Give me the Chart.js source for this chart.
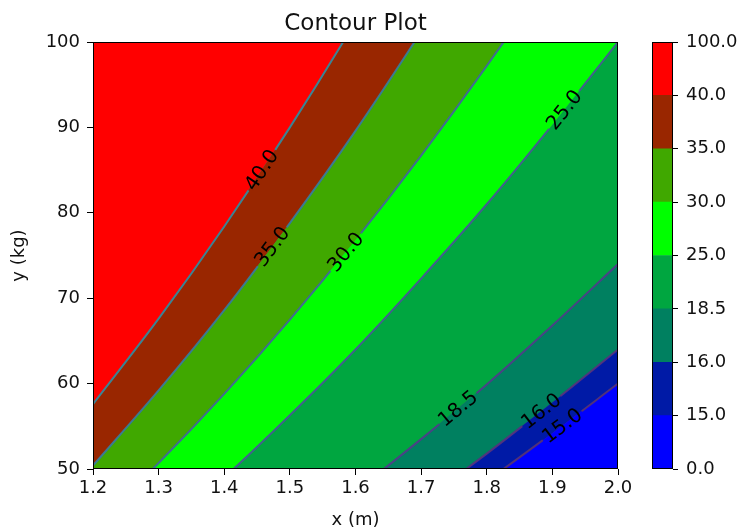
<!DOCTYPE html>
<html>
<head>
<meta charset="utf-8">
<script src="https://cdn.jsdelivr.net/npm/chart.js@4"></script>
<style>
  body { margin: 0; background: #fff; }
  #wrap { position: relative; width: 741px; height: 531px; }
  #contour { position: absolute; left: 0; top: 0; }
  #colorbar { position: absolute; left: 640px; top: 0; }
</style>
</head>
<body>
<div id="wrap">
  <canvas id="contour" width="741" height="531"></canvas>
  <canvas id="colorbar" width="101" height="531"></canvas>
</div>
<script>
// x samples (m) and the weight (kg) where each contour level crosses them
const heights = [1.2, 1.3, 1.4, 1.5, 1.6, 1.7, 1.8, 1.9, 2.0];
const curve15 = [21.6, 25.4, 29.4, 33.8, 38.4, 43.4, 48.6, 54.2, 60.0];
const curve16 = [23.0, 27.0, 31.4, 36.0, 41.0, 46.2, 51.8, 57.8, 64.0];
const curve185 = [26.6, 31.3, 36.3, 41.6, 47.4, 53.5, 59.9, 66.8, 74.0];
const curve25 = [36.0, 42.3, 49.0, 56.3, 64.0, 72.3, 81.0, 90.3, 100.0];
const curve30 = [43.2, 50.7, 58.8, 67.5, 76.8, 86.7, 97.2, 108.3, 120.0];
const curve35 = [50.4, 59.2, 68.6, 78.8, 89.6, 101.2, 113.4, 126.4, 140.0];
const curve40 = [57.6, 67.6, 78.4, 90.0, 102.4, 115.6, 129.6, 144.4, 160.0];
const curve100 = [144, 169, 196, 225, 256, 289, 324, 361, 400];

const levels = [0, 15, 16, 18.5, 25, 30, 35, 40, 100];
const bandColors = ["#0000ff", "#001aa6", "#008060", "#00a640", "#00ff00", "#40a800", "#992600", "#ff0000"];
const lineColors = ["#50307a", "#50347e", "#4a4286", "#42608e", "#3f6e90", "#3a7a92", "#3a8494", "#3a8494"];

const xTicks = [1.2, 1.3, 1.4, 1.5, 1.6, 1.7, 1.8, 1.9, 2.0];
const yTicks = [50, 60, 70, 80, 90, 100];

// inline contour labels: level and the x where it sits
const labelLevels = [40, 35, 30, 25, 18.5, 16, 15];
const labelHeights = [1.457, 1.473, 1.585, 1.918, 1.756, 1.883, 1.915];

const FONT = "DejaVu Sans";
const curves = [curve15, curve16, curve185, curve25, curve30, curve35, curve40, curve100];

const frame = {
    id: "frame",
    afterDraw(chart) {
        const a = chart.chartArea;
        const ctx = chart.ctx;
        ctx.save();
        ctx.strokeStyle = "#000";
        ctx.lineWidth = 1;
        ctx.strokeRect(Math.round(a.left) + 0.5, Math.round(a.top) + 0.5,
            Math.round(a.right - a.left) - 1, Math.round(a.bottom - a.top) - 1);
        ctx.restore();
    }
};

const contourLabels = {
    id: "contourLabels",
    afterDatasetsDraw(chart) {
        const ctx = chart.ctx;
        const xScale = chart.scales.x;
        ctx.save();
        ctx.font = `20px "${FONT}"`;
        ctx.textAlign = "center";
        ctx.textBaseline = "middle";
        labelLevels.forEach((lv, j) => {
            const k = levels.indexOf(lv);
            const pts = chart.getDatasetMeta(k - 1).data;
            const px = xScale.getPixelForValue(labelHeights[j]);
            let i = 0;
            while (i < pts.length - 2 && pts[i + 1].x < px) i++;
            const a = pts[i], b = pts[i + 1];
            const t = (px - a.x) / (b.x - a.x);
            const py = a.y + t * (b.y - a.y);
            const ang = Math.atan2(b.y - a.y, b.x - a.x);
            const text = lv.toFixed(1);
            const w = ctx.measureText(text).width + 4;
            ctx.save();
            ctx.translate(px, py);
            ctx.rotate(ang);
            ctx.fillStyle = bandColors[k];
            ctx.fillRect(-w / 2, -4, w, 4);
            ctx.fillStyle = bandColors[k - 1];
            ctx.fillRect(-w / 2, 0, w, 4);
            ctx.fillStyle = "#000";
            ctx.fillText(text, 0, 1);
            ctx.restore();
        });
        ctx.restore();
    }
};

// contour bands: each level line fills down with the band below it
const datasets = curves.map((c, i) => ({
    label: String(levels[i + 1]),
    data: heights.map((h, n) => ({ x: h, y: c[n] })),
    fill: "start",
    backgroundColor: bandColors[i],
    borderColor: lineColors[i],
    borderWidth: i === curves.length - 1 ? 0 : 2,
    pointRadius: 0,
    cubicInterpolationMode: "monotone"
}));

new Chart(document.getElementById("contour"), {
    type: "line",
    data: { datasets },
    options: {
        responsive: false,
        animation: false,
        layout: { padding: { left: 0, right: 123, top: 1, bottom: 0 } },
        plugins: {
            legend: { display: false },
            tooltip: { enabled: false },
            title: {
                display: true,
                text: "Contour Plot",
                fullSize: false,
                color: "#111",
                font: { family: FONT, size: 23, weight: "normal" },
                padding: { top: 9, bottom: 4.4 }
            }
        },
        scales: {
            x: {
                type: "linear",
                min: 1.2,
                max: 2.0,
                afterBuildTicks: s => { s.ticks = xTicks.map(v => ({ value: v })); },
                afterFit: s => { s.height = 62; },
                ticks: {
                    color: "#111",
                    padding: 3,
                    maxRotation: 0,
                    font: { family: FONT, size: 18 },
                    callback: v => v.toFixed(1)
                },
                grid: { drawOnChartArea: false, tickLength: 6, color: "#000" },
                border: { display: false },
                title: {
                    display: true,
                    text: "x (m)",
                    color: "#111",
                    font: { family: FONT, size: 18 },
                    padding: { top: 0, bottom: 0 }
                }
            },
            y: {
                type: "linear",
                min: 50,
                max: 100,
                afterBuildTicks: s => { s.ticks = yTicks.map(v => ({ value: v })); },
                afterFit: s => { s.width = 93; },
                ticks: {
                    color: "#111",
                    padding: 7,
                    font: { family: FONT, size: 18 }
                },
                grid: { drawOnChartArea: false, tickLength: 6, color: "#000" },
                border: { display: false },
                title: {
                    display: true,
                    text: "y (kg)",
                    color: "#111",
                    font: { family: FONT, size: 18 },
                    padding: { top: 9, bottom: 0 }
                }
            }
        }
    },
    plugins: [contourLabels, frame]
});

// colorbar: one stacked bar, one equal segment per band
new Chart(document.getElementById("colorbar"), {
    type: "bar",
    data: {
        labels: [""],
        datasets: bandColors.map((c, i) => ({
            label: levels[i] + "-" + levels[i + 1],
            data: [1],
            backgroundColor: c,
            barPercentage: 1,
            categoryPercentage: 1
        }))
    },
    options: {
        responsive: false,
        animation: false,
        layout: { padding: { left: 12, right: 0, top: 42, bottom: 62 } },
        plugins: { legend: { display: false }, tooltip: { enabled: false } },
        scales: {
            x: { stacked: true, display: false },
            y: {
                stacked: true,
                position: "right",
                min: 0,
                max: levels.length - 1,
                afterBuildTicks: s => { s.ticks = levels.map((_, i) => ({ value: i })); },
                afterFit: s => { s.width = 68; },
                ticks: {
                    color: "#111",
                    padding: 8,
                    font: { family: FONT, size: 18 },
                    callback: v => levels[v].toFixed(1)
                },
                grid: { drawOnChartArea: false, tickLength: 5, color: "#000" },
                border: { display: false }
            }
        }
    },
    plugins: [frame]
});
</script>
</body>
</html>
